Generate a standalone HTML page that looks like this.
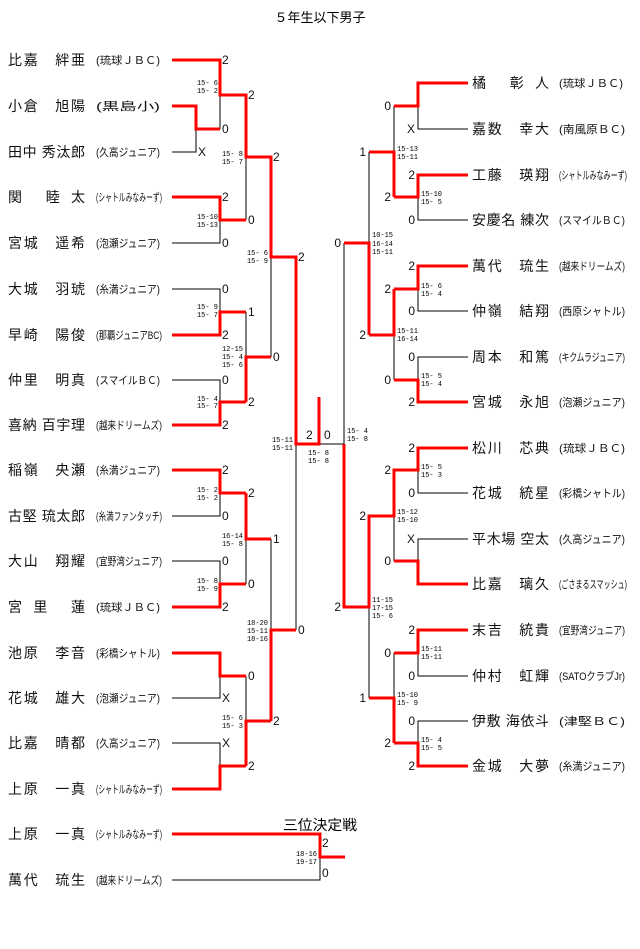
<!DOCTYPE html>
<html><head><meta charset="utf-8"><style>
body{margin:0;background:#fff;}
svg{display:block;font-family:"Liberation Sans","Noto Sans CJK JP",sans-serif;}
.r{stroke:#f00;stroke-width:3;fill:none;}
.k{stroke:#000;stroke-width:1;fill:none;}
.n{font-size:14px;fill:#111;}
.a{font-size:11px;fill:#111;}
.d{font-size:12px;fill:#111;}
.s{font-size:7px;font-family:"Liberation Mono",monospace;fill:#000;}
.e{text-anchor:end;}
</style></head><body>
<svg width="640" height="949" viewBox="0 0 640 949">
<text x="320" y="22" text-anchor="middle" style="font-size:13px">５年生以下男子</text>

<!-- black lines left -->
<path class="k" d="M220,95V129 M172,152H196V129 M172,243H220V220 M246,157V220 M172,289H220V312 M172,380H220V402 M246,312V357 M271,257V357 M172,516H220V493 M172,561H220V584 M246,539V584 M172,698H220V676 M172,743H220V766 M246,676V721 M271,539V630 M296,444V630 M319,444H344 M344,243V444"/>
<!-- black lines right -->
<path class="k" d="M468,129H418V106 M468,220H418V197 M394,106V152 M468,311H418V289 M468,357H418V380 M394,335V380 M369,152V243 M468,493H418V470 M468,539H418V561 M394,516V561 M468,676H418V653 M468,721H418V743 M394,653V698 M369,607V698"/>
<!-- third place black -->
<path class="k" d="M172,880H320V857"/>

<!-- red left -->
<path class="r" d="M172,60H220V95H246V157H271V257H296V444H319V397"/>
<path class="r" d="M172,106H196V129H220 M172,197H220V220H246 M172,335H220V312H246 M172,425H220V402H246 M246,402V357H271 M172,470H220V493H246 M246,493V539H271 M172,607H220V584H246 M172,653H220V676H246 M172,789H220V766H246 M246,766V721H271 M271,721V630H296"/>
<!-- red right -->
<path class="r" d="M468,448H418V470H394V516H369V607H344V444"/>
<path class="r" d="M468,83H418V106H394 M468,175H418V197H394 M394,197V152H369 M468,266H418V289H394 M468,402H418V380H394 M394,289V335H369 M369,335V243H344 M468,584H418V561H394 M468,630H418V653H394 M468,766H418V743H394 M394,743V698H369"/>
<!-- third place red -->
<path class="r" d="M172,834H320V857H345"/>

<!-- left names -->
<g class="n">
<text x="8" y="65" textLength="77" lengthAdjust="spacing">比嘉　絆亜</text>
<text x="8" y="111" textLength="77" lengthAdjust="spacing">小倉　旭陽</text>
<text x="8" y="157" textLength="77" lengthAdjust="spacing">田中 秀汰郎</text>
<text x="8" y="202" textLength="77" lengthAdjust="spacing">関　　睦　太</text>
<text x="8" y="248" textLength="77" lengthAdjust="spacing">宮城　遥希</text>
<text x="8" y="294" textLength="77" lengthAdjust="spacing">大城　羽琥</text>
<text x="8" y="340" textLength="77" lengthAdjust="spacing">早崎　陽俊</text>
<text x="8" y="385" textLength="77" lengthAdjust="spacing">仲里　明真</text>
<text x="8" y="430" textLength="77" lengthAdjust="spacing">喜納 百宇理</text>
<text x="8" y="475" textLength="77" lengthAdjust="spacing">稲嶺　央瀬</text>
<text x="8" y="521" textLength="77" lengthAdjust="spacing">古堅 琉太郎</text>
<text x="8" y="566" textLength="77" lengthAdjust="spacing">大山　翔耀</text>
<text x="8" y="612" textLength="77" lengthAdjust="spacing">宮　里　　蓮</text>
<text x="8" y="658" textLength="77" lengthAdjust="spacing">池原　李音</text>
<text x="8" y="703" textLength="77" lengthAdjust="spacing">花城　雄大</text>
<text x="8" y="748" textLength="77" lengthAdjust="spacing">比嘉　晴都</text>
<text x="8" y="794" textLength="77" lengthAdjust="spacing">上原　一真</text>
<text x="8" y="839" textLength="77" lengthAdjust="spacing">上原　一真</text>
<text x="8" y="885" textLength="77" lengthAdjust="spacing">萬代　琉生</text>
</g>
<g class="a">
<text x="96" y="64" textLength="64" lengthAdjust="spacingAndGlyphs">(琉球ＪＢＣ)</text>
<text x="96" y="110" textLength="64" lengthAdjust="spacingAndGlyphs">(黒島小)</text>
<text x="96" y="156" textLength="64" lengthAdjust="spacingAndGlyphs">(久高ジュニア)</text>
<text x="96" y="201" textLength="66" lengthAdjust="spacingAndGlyphs">(シャトルみなみーず)</text>
<text x="96" y="247" textLength="64" lengthAdjust="spacingAndGlyphs">(泡瀬ジュニア)</text>
<text x="96" y="293" textLength="64" lengthAdjust="spacingAndGlyphs">(糸満ジュニア)</text>
<text x="96" y="339" textLength="66" lengthAdjust="spacingAndGlyphs">(那覇ジュニアBC)</text>
<text x="96" y="384" textLength="64" lengthAdjust="spacingAndGlyphs">(スマイルＢＣ)</text>
<text x="96" y="429" textLength="66" lengthAdjust="spacingAndGlyphs">(越来ドリームズ)</text>
<text x="96" y="474" textLength="64" lengthAdjust="spacingAndGlyphs">(糸満ジュニア)</text>
<text x="96" y="520" textLength="66" lengthAdjust="spacingAndGlyphs">(糸満ファンタッチ)</text>
<text x="96" y="565" textLength="66" lengthAdjust="spacingAndGlyphs">(宜野湾ジュニア)</text>
<text x="96" y="611" textLength="64" lengthAdjust="spacingAndGlyphs">(琉球ＪＢＣ)</text>
<text x="96" y="657" textLength="64" lengthAdjust="spacingAndGlyphs">(彩橋シャトル)</text>
<text x="96" y="702" textLength="64" lengthAdjust="spacingAndGlyphs">(泡瀬ジュニア)</text>
<text x="96" y="747" textLength="64" lengthAdjust="spacingAndGlyphs">(久高ジュニア)</text>
<text x="96" y="793" textLength="66" lengthAdjust="spacingAndGlyphs">(シャトルみなみーず)</text>
<text x="96" y="838" textLength="66" lengthAdjust="spacingAndGlyphs">(シャトルみなみーず)</text>
<text x="96" y="884" textLength="66" lengthAdjust="spacingAndGlyphs">(越来ドリームズ)</text>
</g>

<!-- right names -->
<g class="n">
<text x="472" y="88" textLength="77" lengthAdjust="spacing">橘　　彰　人</text>
<text x="472" y="134" textLength="77" lengthAdjust="spacing">嘉数　幸大</text>
<text x="472" y="180" textLength="77" lengthAdjust="spacing">工藤　瑛翔</text>
<text x="472" y="225" textLength="77" lengthAdjust="spacing">安慶名 練次</text>
<text x="472" y="271" textLength="77" lengthAdjust="spacing">萬代　琉生</text>
<text x="472" y="316" textLength="77" lengthAdjust="spacing">仲嶺　結翔</text>
<text x="472" y="362" textLength="77" lengthAdjust="spacing">周本　和篤</text>
<text x="472" y="407" textLength="77" lengthAdjust="spacing">宮城　永旭</text>
<text x="472" y="453" textLength="77" lengthAdjust="spacing">松川　芯典</text>
<text x="472" y="498" textLength="77" lengthAdjust="spacing">花城　統星</text>
<text x="472" y="544" textLength="77" lengthAdjust="spacing">平木場 空太</text>
<text x="472" y="589" textLength="77" lengthAdjust="spacing">比嘉　璃久</text>
<text x="472" y="635" textLength="77" lengthAdjust="spacing">末吉　統貴</text>
<text x="472" y="681" textLength="77" lengthAdjust="spacing">仲村　虹輝</text>
<text x="472" y="726" textLength="77" lengthAdjust="spacing">伊敷 海依斗</text>
<text x="472" y="771" textLength="77" lengthAdjust="spacing">金城　大夢</text>
</g>
<g class="a">
<text x="559" y="87" textLength="64" lengthAdjust="spacingAndGlyphs">(琉球ＪＢＣ)</text>
<text x="559" y="133" textLength="66" lengthAdjust="spacingAndGlyphs">(南風原ＢＣ)</text>
<text x="559" y="179" textLength="68" lengthAdjust="spacingAndGlyphs">(シャトルみなみーず)</text>
<text x="559" y="224" textLength="66" lengthAdjust="spacingAndGlyphs">(スマイルＢＣ)</text>
<text x="559" y="270" textLength="66" lengthAdjust="spacingAndGlyphs">(越来ドリームズ)</text>
<text x="559" y="315" textLength="66" lengthAdjust="spacingAndGlyphs">(西原シャトル)</text>
<text x="559" y="361" textLength="66" lengthAdjust="spacingAndGlyphs">(キクムラジュニア)</text>
<text x="559" y="406" textLength="66" lengthAdjust="spacingAndGlyphs">(泡瀬ジュニア)</text>
<text x="559" y="452" textLength="66" lengthAdjust="spacingAndGlyphs">(琉球ＪＢＣ)</text>
<text x="559" y="497" textLength="66" lengthAdjust="spacingAndGlyphs">(彩橋シャトル)</text>
<text x="559" y="543" textLength="66" lengthAdjust="spacingAndGlyphs">(久高ジュニア)</text>
<text x="559" y="588" textLength="68" lengthAdjust="spacingAndGlyphs">(ごさまるスマッシュ)</text>
<text x="559" y="634" textLength="66" lengthAdjust="spacingAndGlyphs">(宜野湾ジュニア)</text>
<text x="559" y="680" textLength="66" lengthAdjust="spacingAndGlyphs">(SATOクラブJr)</text>
<text x="559" y="725" textLength="66" lengthAdjust="spacingAndGlyphs">(津堅ＢＣ)</text>
<text x="559" y="770" textLength="66" lengthAdjust="spacingAndGlyphs">(糸満ジュニア)</text>
</g>

<!-- left digits -->
<g class="d">
<text x="222" y="64">2</text><text x="222" y="133">0</text><text x="198" y="156">X</text>
<text x="222" y="201">2</text><text x="222" y="247">0</text><text x="222" y="293">0</text><text x="222" y="339">2</text>
<text x="222" y="384">0</text><text x="222" y="429">2</text><text x="222" y="474">2</text><text x="222" y="520">0</text>
<text x="222" y="565">0</text><text x="222" y="611">2</text><text x="222" y="702">X</text><text x="222" y="747">X</text>
<text x="248" y="99">2</text><text x="248" y="224">0</text><text x="248" y="316">1</text><text x="248" y="406">2</text>
<text x="248" y="497">2</text><text x="248" y="588">0</text><text x="248" y="680">0</text><text x="248" y="770">2</text>
<text x="273" y="161">2</text><text x="273" y="361">0</text><text x="273" y="543">1</text><text x="273" y="725">2</text>
<text x="298" y="261">2</text><text x="298" y="634">0</text>
<text x="306" y="439">2</text><text x="324" y="439">0</text>
<text x="322" y="847">2</text><text x="322" y="877">0</text>
</g>
<!-- right digits -->
<g class="d e">
<text x="415" y="133">X</text><text x="415" y="179">2</text><text x="415" y="224">0</text><text x="415" y="270">2</text>
<text x="415" y="315">0</text><text x="415" y="361">0</text><text x="415" y="406">2</text><text x="415" y="452">2</text>
<text x="415" y="497">0</text><text x="415" y="543">X</text><text x="415" y="634">2</text><text x="415" y="680">0</text>
<text x="415" y="725">0</text><text x="415" y="770">2</text>
<text x="391" y="110">0</text><text x="391" y="201">2</text><text x="391" y="293">2</text><text x="391" y="384">0</text>
<text x="391" y="474">2</text><text x="391" y="565">0</text><text x="391" y="657">0</text><text x="391" y="747">2</text>
<text x="366" y="156">1</text><text x="366" y="339">2</text><text x="366" y="520">2</text><text x="366" y="702">1</text>
<text x="341" y="247">0</text><text x="341" y="611">2</text>
</g>

<!-- left scores -->
<g class="s e">
<text x="218" y="85">15- 6</text><text x="218" y="93">15- 2</text>
<text x="218" y="219">15-10</text><text x="218" y="227">15-13</text>
<text x="243" y="156">15- 8</text><text x="243" y="164">15- 7</text>
<text x="218" y="309">15- 9</text><text x="218" y="317">15- 7</text>
<text x="218" y="401">15- 4</text><text x="218" y="408">15- 7</text>
<text x="243" y="351">12-15</text><text x="243" y="359">15- 4</text><text x="243" y="367">15- 6</text>
<text x="268" y="255">15- 6</text><text x="268" y="263">15- 9</text>
<text x="218" y="492">15- 2</text><text x="218" y="500">15- 2</text>
<text x="218" y="583">15- 8</text><text x="218" y="591">15- 9</text>
<text x="243" y="538">16-14</text><text x="243" y="546">15- 8</text>
<text x="243" y="720">15- 6</text><text x="243" y="728">15- 3</text>
<text x="268" y="625">18-20</text><text x="268" y="633">15-11</text><text x="268" y="641">18-16</text>
<text x="293" y="442">15-11</text><text x="293" y="450">15-11</text>
<text x="317" y="856">18-16</text><text x="317" y="864">19-17</text>
</g>
<g class="s">
<text x="308" y="455">15- 8</text><text x="308" y="463">15- 8</text>
<text x="421" y="196">15-10</text><text x="421" y="204">15- 5</text>
<text x="397" y="151">15-13</text><text x="397" y="159">15-11</text>
<text x="421" y="288">15- 6</text><text x="421" y="296">15- 4</text>
<text x="421" y="378">15- 5</text><text x="421" y="386">15- 4</text>
<text x="397" y="333">15-11</text><text x="397" y="341">16-14</text>
<text x="372" y="237">10-15</text><text x="372" y="246">16-14</text><text x="372" y="254">15-11</text>
<text x="347" y="433">15- 4</text><text x="347" y="441">15- 8</text>
<text x="421" y="469">15- 5</text><text x="421" y="477">15- 3</text>
<text x="397" y="514">15-12</text><text x="397" y="522">15-10</text>
<text x="421" y="651">15-11</text><text x="421" y="659">15-11</text>
<text x="421" y="742">15- 4</text><text x="421" y="750">15- 5</text>
<text x="397" y="697">15-10</text><text x="397" y="705">15- 9</text>
<text x="372" y="602">11-15</text><text x="372" y="610">17-15</text><text x="372" y="618">15- 6</text>
</g>

<text x="283" y="830" style="font-size:14px" textLength="74" lengthAdjust="spacingAndGlyphs">三位決定戦</text>
</svg>
</body></html>
